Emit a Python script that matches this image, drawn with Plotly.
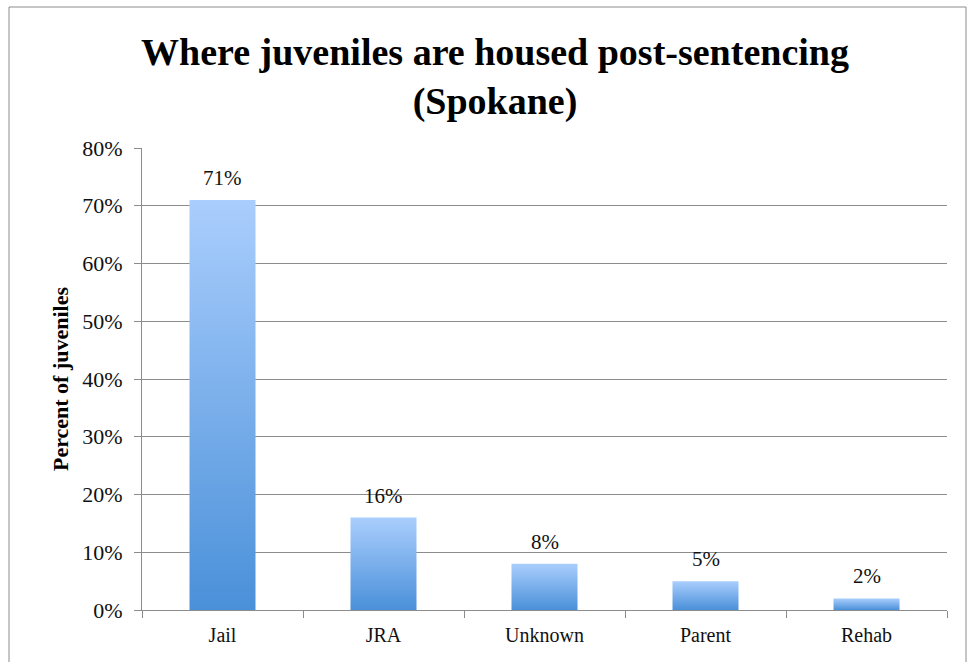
import plotly.graph_objects as go

categories = ["Jail", "JRA", "Unknown", "Parent", "Rehab"]
shares = [0.71, 0.16, 0.08, 0.05, 0.02]
value_labels = ["71%", "16%", "8%", "5%", "2%"]
y_ticks = [0, 0.1, 0.2, 0.3, 0.4, 0.5, 0.6, 0.7, 0.8]
y_tick_labels = ["0%", "10%", "20%", "30%", "40%", "50%", "60%", "70%", "80%"]

FONT = "Liberation Serif"
W, H = 968, 662
ML, MR, MT, MB = 142, 21, 148, 52
HALF = 0.205  # half bar width in category units

fig = go.Figure()

# Bars drawn as filled outlines so each one gets its own vertical gradient
for i, (cat, v) in enumerate(zip(categories, shares)):
    fig.add_trace(go.Scatter(
        x=[i - HALF, i + HALF, i + HALF, i - HALF, i - HALF],
        y=[0, 0, v, v, 0],
        mode="lines",
        line=dict(width=0, color="rgba(0,0,0,0)"),
        fill="toself",
        fillgradient=dict(
            type="vertical",
            colorscale=[[0, "#4a90d9"], [1, "#aacefd"]],
        ),
        hoverinfo="skip",
        showlegend=False,
        name=cat,
    ))

for i, (v, lab) in enumerate(zip(shares, value_labels)):
    fig.add_annotation(
        x=i, y=v, text=lab, showarrow=False,
        yanchor="bottom", yshift=8,
        font=dict(family=FONT, size=21, color="#111"),
    )

# outer frame of the chart
fx0 = (9 - ML) / (W - ML - MR)
fy1 = 1 + (MT - 7) / (H - MT - MB)
fig.add_shape(type="rect", xref="paper", yref="paper",
              x0=fx0, x1=(W - 2 - ML) / (W - ML - MR),
              y0=-(MB + 5) / (H - MT - MB), y1=fy1,
              line=dict(color="#8c8c8c", width=1), layer="below")

fig.update_layout(
    width=W, height=H,
    margin=dict(l=ML, r=MR, t=MT, b=MB),
    paper_bgcolor="white", plot_bgcolor="white",
    title=dict(
        text="<b>Where juveniles are housed post-sentencing<br>(Spokane)</b>",
        x=495 / W, xanchor="center", y=1 - 65 / H, yanchor="middle",
        font=dict(family=FONT, size=38, color="black"),
    ),
    xaxis=dict(
        range=[-0.5, 4.5],
        tickmode="array", tickvals=list(range(len(categories))), ticktext=categories,
        ticks="", showgrid=False, zeroline=False,
        showline=True, linecolor="#8c8c8c", linewidth=1,
        tickfont=dict(family=FONT, size=20, color="#111"),
        ticklabelstandoff=7,
        minor=dict(tickmode="linear", tick0=-0.5, dtick=1, ticks="outside",
                   ticklen=7, tickcolor="#8c8c8c", tickwidth=1, showgrid=False),
        fixedrange=True,
    ),
    yaxis=dict(
        range=[0, 0.8],
        tickmode="array", tickvals=y_ticks, ticktext=y_tick_labels,
        ticks="outside", ticklen=7, tickcolor="#8c8c8c",
        ticklabelstandoff=7,
        showgrid=True, gridcolor="#8c8c8c", gridwidth=1, zeroline=False,
        showline=True, linecolor="#8c8c8c", linewidth=1,
        tickfont=dict(family=FONT, size=22, color="#111"),
        title=dict(text="<b>Percent of juveniles</b>", standoff=7,
                   font=dict(family=FONT, size=22, color="black")),
        fixedrange=True,
    ),
)

fig.write_html("out.html")
